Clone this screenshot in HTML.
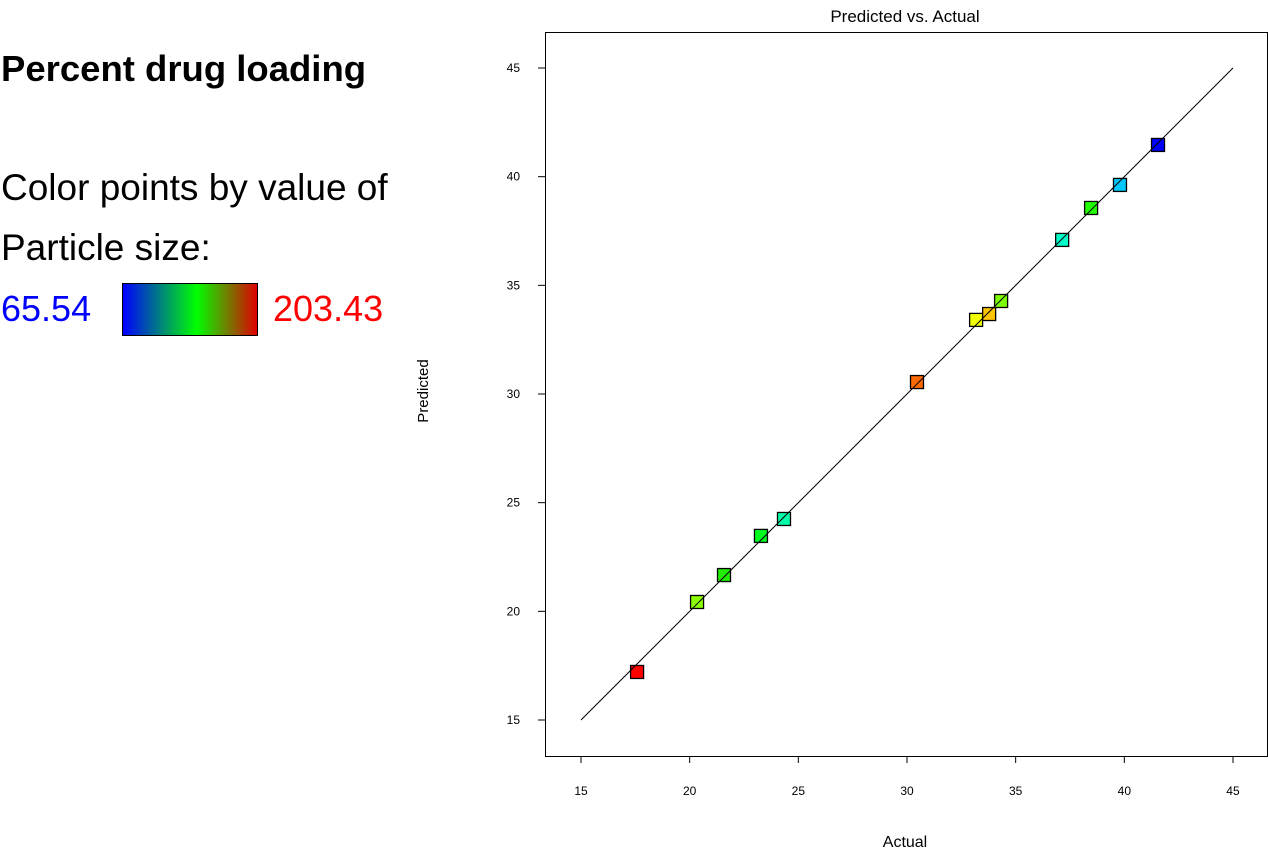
<!DOCTYPE html>
<html><head><meta charset="utf-8"><style>
body{margin:0;width:1268px;height:851px;background:#fff;font-family:"Liberation Sans",sans-serif;overflow:hidden;position:relative}
.t{position:absolute;white-space:nowrap}
</style></head><body>
<div class="t" style="left:1px;top:48px;font-size:36.5px;font-weight:bold;color:#000">Percent drug loading</div>
<div class="t" style="left:1px;top:167px;font-size:37px;color:#000">Color points by value of</div>
<div class="t" style="left:1px;top:227px;font-size:37px;color:#000">Particle size:</div>
<div class="t" style="left:1px;top:288px;font-size:36px;color:#0000ff">65.54</div>
<div style="position:absolute;left:122px;top:283px;width:134px;height:51px;border:1px solid #000;background:linear-gradient(to right,#0000ff,#00ff00 55%,#e00000)"></div>
<div class="t" style="left:273px;top:288px;font-size:36px;color:#ff0000">203.43</div>
<svg id="chart" width="1268" height="851" style="position:absolute;left:0;top:0" font-family="Liberation Sans, sans-serif"></svg>
<script>
const actual=[17.58,20.34,21.58,23.28,24.34,30.46,33.18,33.78,34.33,37.14,38.47,39.80,41.55];
const predicted=[17.21,20.43,21.67,23.47,24.25,30.55,33.41,33.68,34.28,37.09,38.56,39.62,41.46];
const pointColors=["#ff0000","#8cff00","#22ee00","#00ff20","#00ffaa","#ff6a00","#f2ff00","#ffc400","#7cff00","#00ffc8","#22ff00","#00c8ff","#0000ff"];
const ticks=[15,20,25,30,35,40,45];
const NS="http://www.w3.org/2000/svg";
const svg=document.getElementById('chart');
const sx=v=>581+(v-15)*21.733;
const sy=v=>720-(v-15)*21.733;
function mk(t,a){const e=document.createElementNS(NS,t);for(const k in a)e.setAttribute(k,a[k]);svg.appendChild(e);return e;}
let f=mk('rect',{x:545.5,y:32.5,width:722,height:724,fill:'none',stroke:'#000'});


let ti=mk('text',{x:905,y:22,'text-anchor':'middle','font-size':17});ti.textContent='Predicted vs. Actual';


let xt=mk('text',{x:905,y:847,'text-anchor':'middle','font-size':16});xt.textContent='Actual';


let yt=mk('text',{x:0,y:0,'text-anchor':'middle','font-size':15,transform:'translate(428,391) rotate(-90)'});yt.textContent='Predicted';


ticks.forEach(t=>{
 let l=mk('line',{x1:sx(t),x2:sx(t),y1:756,y2:763,stroke:'#000'});
 
 
 let tx=mk('text',{x:sx(t),y:795,'text-anchor':'middle','font-size':12});tx.textContent=t;
 
 
 let l2=mk('line',{x1:538,x2:545,y1:sy(t),y2:sy(t),stroke:'#000'});
 
 
 let ty=mk('text',{x:520,y:sy(t)+4,'text-anchor':'end','font-size':12});ty.textContent=t;
 
 
});
actual.forEach((a,i)=>{
 let r=mk('rect',{x:sx(a)-6.5,y:sy(predicted[i])-6.5,width:13,height:13,fill:pointColors[i],stroke:'#000','stroke-width':1.3});
 
 
});
let d=mk('line',{x1:sx(15),y1:sy(15),x2:sx(45),y2:sy(45),stroke:'#000','stroke-width':1});


</script>
</body></html>
